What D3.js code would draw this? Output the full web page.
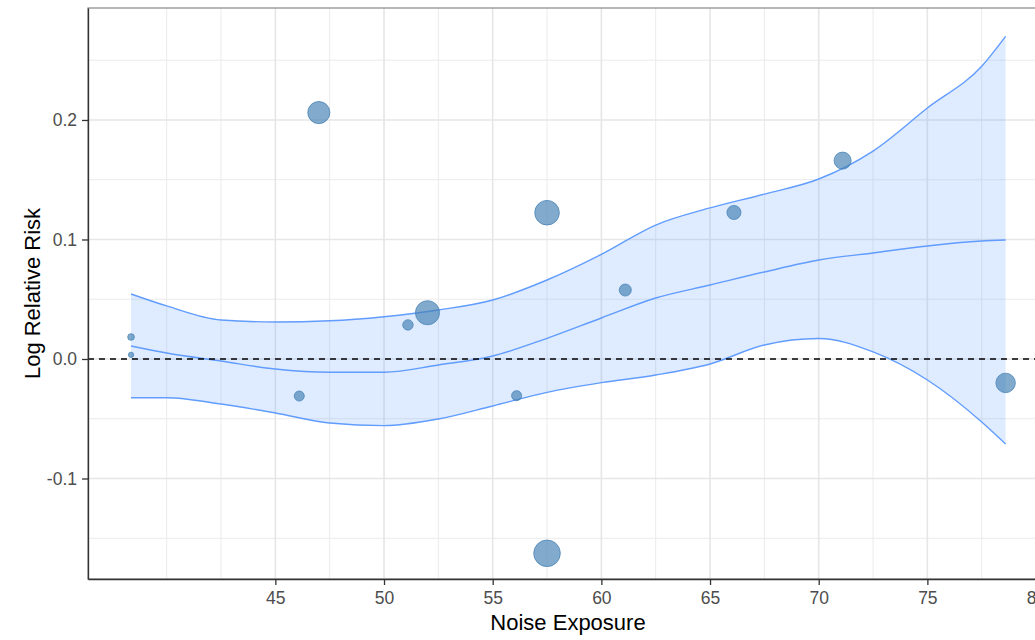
<!DOCTYPE html>
<html>
<head>
<meta charset="utf-8">
<script src="https://cdn.jsdelivr.net/npm/d3@7"></script>
<style>
  html, body { margin: 0; padding: 0; background: #fff; }
  svg { display: block; font-family: "Liberation Sans", Arial, sans-serif; }
</style>
</head>
<body>
<svg id="chart" width="1035" height="640"></svg>
<script>
// ---- data ----
const xTicks = [45, 50, 55, 60, 65, 70, 75, 80];
const xMinorGrid = [40, 42.5, 47.5, 52.5, 57.5, 62.5, 67.5, 72.5, 77.5];
const yTicks = [-0.1, 0.0, 0.1, 0.2];
const yMinorGrid = [-0.15, -0.05, 0.05, 0.15, 0.25];

const pointX = [38.36, 38.36, 46.1, 47.0, 51.1, 52.0, 56.1, 57.5, 57.5, 61.1, 66.1, 71.1, 78.6];
const pointY = [0.0184, 0.0035, -0.031, 0.2062, 0.0285, 0.0387, -0.0307, 0.1224, -0.1626, 0.0577, 0.1226, 0.166, -0.020];
const pointW = [11, 7, 25, 121, 27, 144, 25, 150, 175, 36, 49, 72, 94];

const curveX = [38.36, 40, 42.5, 45, 47.5, 50, 52.5, 55, 57.5, 60, 62.5, 65, 67.5, 70, 72.5, 75, 77.5, 78.6];
const fitY   = [0.0109, 0.005, -0.0017, -0.0084, -0.0111, -0.0111, -0.005, 0.0025, 0.0173, 0.0343, 0.051, 0.0619, 0.0728, 0.0828, 0.0887, 0.0946, 0.0987, 0.0996];
const upperY = [0.0544, 0.0444, 0.0326, 0.031, 0.032, 0.0354, 0.041, 0.0494, 0.0661, 0.0875, 0.1121, 0.1264, 0.138, 0.1506, 0.174, 0.210, 0.245, 0.270];
const lowerY = [-0.0324, -0.0324, -0.0377, -0.0452, -0.0536, -0.0558, -0.0502, -0.0393, -0.0279, -0.0198, -0.0134, -0.0042, 0.0117, 0.0171, 0.0059, -0.0176, -0.0527, -0.0711];

const xTitle = "Noise Exposure";
const yTitle = "Log Relative Risk";

// ---- layout ----
const svg = d3.select("#chart");
const pLeft = 88, pRight = 1048, pTop = 8, pBottom = 579;

const x = d3.scaleLinear().domain([36.38, 80.55]).range([pLeft, pRight]);
const y = d3.scaleLinear().domain([-0.1841, 0.2937]).range([pBottom, pTop]);
const r = d3.scaleSqrt().domain([0, 175]).range([0, 13.3]);

const g = svg.append("g");

// grid
g.selectAll(".gxm").data(xMinorGrid).enter().append("line")
  .attr("x1", d => x(d)).attr("x2", d => x(d)).attr("y1", pTop).attr("y2", pBottom)
  .attr("stroke", "#ebebeb").attr("stroke-width", 1);
g.selectAll(".gym").data(yMinorGrid).enter().append("line")
  .attr("y1", d => y(d)).attr("y2", d => y(d)).attr("x1", pLeft).attr("x2", pRight)
  .attr("stroke", "#ebebeb").attr("stroke-width", 1);
g.selectAll(".gx").data(xTicks).enter().append("line")
  .attr("x1", d => x(d)).attr("x2", d => x(d)).attr("y1", pTop).attr("y2", pBottom)
  .attr("stroke", "#e6e6e6").attr("stroke-width", 1.6);
g.selectAll(".gy").data(yTicks).enter().append("line")
  .attr("y1", d => y(d)).attr("y2", d => y(d)).attr("x1", pLeft).attr("x2", pRight)
  .attr("stroke", "#e6e6e6").attr("stroke-width", 1.6);

// ribbon
const band = curveX.map((cx, i) => ({x: cx, lo: lowerY[i], hi: upperY[i], fit: fitY[i]}));
g.append("path").datum(band)
  .attr("d", d3.area().x(d => x(d.x)).y0(d => y(d.lo)).y1(d => y(d.hi)).curve(d3.curveMonotoneX))
  .attr("fill", "#619CFF").attr("fill-opacity", 0.2);
const lineStyle = sel => sel.attr("fill", "none").attr("stroke", "#619CFF").attr("stroke-width", 1.4);
g.append("path").datum(band)
  .attr("d", d3.line().x(d => x(d.x)).y(d => y(d.hi)).curve(d3.curveMonotoneX)).call(lineStyle);
g.append("path").datum(band)
  .attr("d", d3.line().x(d => x(d.x)).y(d => y(d.lo)).curve(d3.curveMonotoneX)).call(lineStyle);
g.append("path").datum(band)
  .attr("d", d3.line().x(d => x(d.x)).y(d => y(d.fit)).curve(d3.curveMonotoneX)).call(lineStyle);

// zero line
g.append("line").attr("x1", pLeft).attr("x2", pRight).attr("y1", y(0)).attr("y2", y(0))
  .attr("stroke", "#000").attr("stroke-width", 1.6).attr("stroke-dasharray", "6,5");

// points
const pts = pointX.map((px, i) => ({x: px, y: pointY[i], w: pointW[i]}));
g.selectAll(".pt").data(pts).enter().append("circle")
  .attr("cx", d => x(d.x)).attr("cy", d => y(d.y)).attr("r", d => r(d.w))
  .attr("fill", "#4682B4").attr("fill-opacity", 0.68)
  .attr("stroke", "#4682B4").attr("stroke-opacity", 0.75).attr("stroke-width", 1);

// panel border
svg.append("rect").attr("x", pLeft).attr("y", pTop).attr("width", pRight - pLeft).attr("height", pBottom - pTop)
  .attr("fill", "none").attr("stroke", "#888").attr("stroke-width", 1.2);

// axes
const yFmt = d => d3.format(".1f")(d).replace("\u2212", "-");
const xAxis = svg.append("g").attr("transform", `translate(0,${pBottom})`)
  .call(d3.axisBottom(x).tickValues(xTicks).tickFormat(d3.format("d"))
        .tickSize(6).tickSizeOuter(0).tickPadding(7));
const yAxis = svg.append("g").attr("transform", `translate(${pLeft},0)`)
  .call(d3.axisLeft(y).tickValues(yTicks).tickFormat(yFmt)
        .tickSize(6).tickSizeOuter(0).tickPadding(5));
[xAxis, yAxis].forEach(a => {
  a.select(".domain").attr("stroke", "#333").attr("stroke-width", 1.3);
  a.selectAll(".tick line").attr("stroke", "#333").attr("stroke-width", 1.3);
  a.selectAll(".tick text").attr("fill", "#4d4d4d").style("font-size", "17.5px")
   .style("font-family", '"Liberation Sans", Arial, sans-serif');
});

// titles
svg.append("text").attr("x", (pLeft + pRight) / 2).attr("y", 630)
  .attr("text-anchor", "middle").attr("fill", "#000").style("font-size", "22px").text(xTitle);
svg.append("text").attr("transform", `translate(39.5,${(pTop + pBottom) / 2}) rotate(-90)`)
  .attr("text-anchor", "middle").attr("fill", "#000").style("font-size", "22px").text(yTitle);
</script>
</body>
</html>
